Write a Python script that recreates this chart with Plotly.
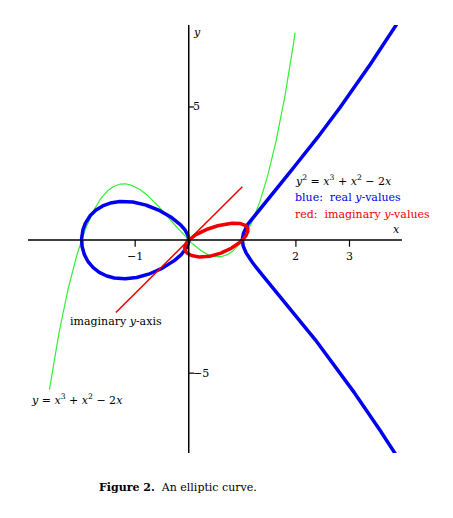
import numpy as np
import plotly.graph_objects as go

# cubic y = x^3 + x^2 - 2x, roots at -2, 0, 1
coef = [1, 1, -2, 0]
x_green = np.linspace(-2.6, 1.985, 400)
x_left = -1 - np.cos(np.linspace(0, np.pi, 600))           # -2 .. 0
x_right = 1 + 2.9 * (1 - np.cos(np.linspace(0, np.pi / 2, 600)))  # 1 .. 3.9
x_imag = 0.5 - 0.5 * np.cos(np.linspace(0, np.pi, 300))   # 0 .. 1
imag_axis_t = [-3.4, 2.5]    # extent of imaginary y-axis
imag_dir = (0.4, 0.8)        # oblique direction of imaginary unit (data units)
xticks = [-1, 2, 3]
yticks = [5, -5]

f = lambda x: np.polyval(coef, x)

fig = go.Figure()
fig.add_trace(go.Scatter(x=x_green, y=f(x_green), mode="lines",
                         line=dict(color="#33ee33", width=1.2)))
for xs in (x_left, x_right):
    r = np.sqrt(np.clip(f(xs), 0, None))
    xx = np.concatenate([xs[::-1], xs])
    yy = np.concatenate([r[::-1], -r])
    fig.add_trace(go.Scatter(x=xx, y=yy, mode="lines",
                             line=dict(color="#0000ee", width=3.5)))
t = np.sqrt(np.clip(-f(x_imag), 0, None))
tt = np.concatenate([t, -t[::-1]])
xi = np.concatenate([x_imag, x_imag[::-1]])
fig.add_trace(go.Scatter(x=xi + tt * imag_dir[0], y=tt * imag_dir[1], mode="lines",
                         line=dict(color="#ee0000", width=3.5)))
fig.add_trace(go.Scatter(x=[v * imag_dir[0] for v in imag_axis_t],
                         y=[v * imag_dir[1] for v in imag_axis_t], mode="lines",
                         line=dict(color="#ee0000", width=1.5)))

# axes
fig.add_shape(type="line", x0=-3, x1=3.98, y0=0, y1=0, line=dict(color="black", width=1.5))
fig.add_shape(type="line", x0=0, x1=0, y0=-8.0, y1=8.08, line=dict(color="black", width=1.5))
for v in xticks:
    fig.add_shape(type="line", x0=v, x1=v, y0=0, y1=-0.25, line=dict(color="black", width=1.2))
    fig.add_annotation(x=v, y=-0.3, text=str(v).replace("-", "−"), showarrow=False,
                       yanchor="top", font=dict(size=11))
for v in yticks:
    fig.add_shape(type="line", x0=0, x1=0.1, y0=v, y1=v, line=dict(color="black", width=1.2))
    fig.add_annotation(x=0.05, y=v, text=str(v).replace("-", "−"), showarrow=False,
                       xanchor="left", font=dict(size=11))

def lab(x, y, text, color="black", xa="left"):
    fig.add_annotation(x=x, y=y, text=text, showarrow=False, xanchor=xa,
                       font=dict(size=11, color=color))

lab(3.98, 0.4, "<i>x</i>", xa="right")
lab(0.05, 7.8, "<i>y</i>")
lab(1.95, 2.25, "<i>y</i><sup>2</sup> = <i>x</i><sup>3</sup> + <i>x</i><sup>2</sup> − 2<i>x</i>")
lab(1.95, 1.6, "blue:  real <i>y</i>-values", "#0000ee")
lab(1.95, 0.95, "red:  imaginary <i>y</i>-values", "#ee0000")
lab(-2.25, -3.05, "imaginary <i>y</i>-axis")
lab(-2.99, -6.0, "<i>y</i> = <i>x</i><sup>3</sup> + <i>x</i><sup>2</sup> − 2<i>x</i>")

fig.add_annotation(xref="paper", yref="paper", x=0.40, y=-0.10, showarrow=False,
                   text="<b>Figure 2.</b>  An elliptic curve.", font=dict(size=11))

fig.update_layout(
    width=453, height=518, showlegend=False,
    margin=dict(l=20, r=59, t=17, b=73, autoexpand=False),
    plot_bgcolor="white", paper_bgcolor="white",
    font=dict(family="DejaVu Serif", color="black"),
    xaxis=dict(range=[-3, 3.98], visible=False),
    yaxis=dict(range=[-8.0, 8.08], visible=False),
)
fig.write_html("out.html")
